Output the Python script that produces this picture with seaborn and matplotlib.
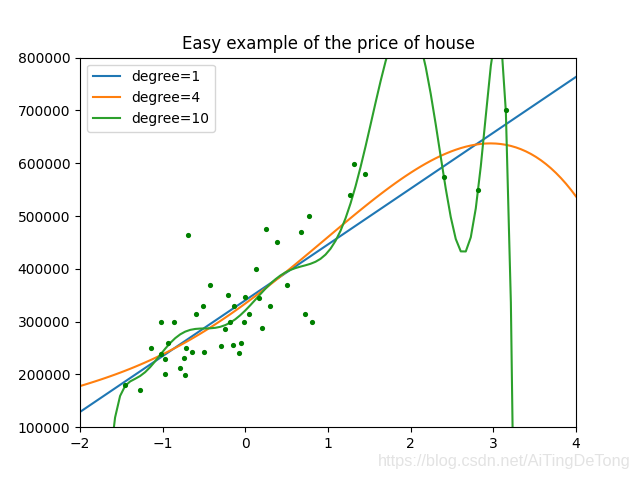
import numpy as np
import pandas as pd
import matplotlib
matplotlib.use('Agg')
import matplotlib.pyplot as plt
import seaborn as sns

# house size (sq ft) and price
size = [2104, 1600, 2400, 1416, 3000, 1985, 1534, 1427, 1380, 1494, 1940, 2000,
        1890, 4478, 1268, 2300, 1320, 1236, 2609, 3031, 1767, 1888, 1604, 1962,
        3890, 1100, 1458, 2526, 2200, 2637, 1839, 1000, 2040, 3137, 1811, 1437,
        1239, 2132, 4215, 2162, 1664, 2238, 2567, 1200, 852, 1852, 1203]
price = [399900, 329900, 369000, 232000, 539900, 299900, 314900, 198999, 212000,
         242500, 239999, 347000, 329999, 699900, 259900, 449900, 299900, 199900,
         499998, 599000, 252900, 255000, 242900, 259900, 573900, 249900, 464500,
         469000, 475000, 299900, 349900, 169900, 314900, 579900, 285900, 249900,
         229900, 345000, 549000, 287000, 368500, 329900, 314000, 299000, 179900,
         299900, 239500]
degrees = [1, 4, 10]
colors = ['#1f77b4', '#ff7f0e', '#2ca02c']

x = np.array(size, dtype=float)
x = (x - x.mean()) / x.std()
y = np.array(price, dtype=float)

fig, ax = plt.subplots(figsize=(6.4, 4.8), dpi=100)
sns.scatterplot(x=x, y=y, s=5, color='g', edgecolor='g', linewidth=1.5, ax=ax, zorder=3)

xs = np.linspace(-2, 4, 100)
for deg, c in zip(degrees, colors):
    coef = np.polyfit(x, y, deg)
    df = pd.DataFrame({'x': xs, 'y': np.polyval(coef, xs)})
    sns.lineplot(data=df, x='x', y='y', color=c, linewidth=1.5, label='degree=%d' % deg, ax=ax)

ax.set_xlim(-2, 4)
ax.set_ylim(100000, 800000)
ax.set_xlabel('')
ax.set_ylabel('')
ax.set_title('Easy example of the price of house')
ax.legend(loc='upper left')
fig.text(0.986, 0.023, 'https://blog.csdn.net/AiTingDeTong', ha='right', va='bottom',
         fontsize=11.8, color='#e3e3e3', family='Liberation Sans')
plt.savefig('out.png')
